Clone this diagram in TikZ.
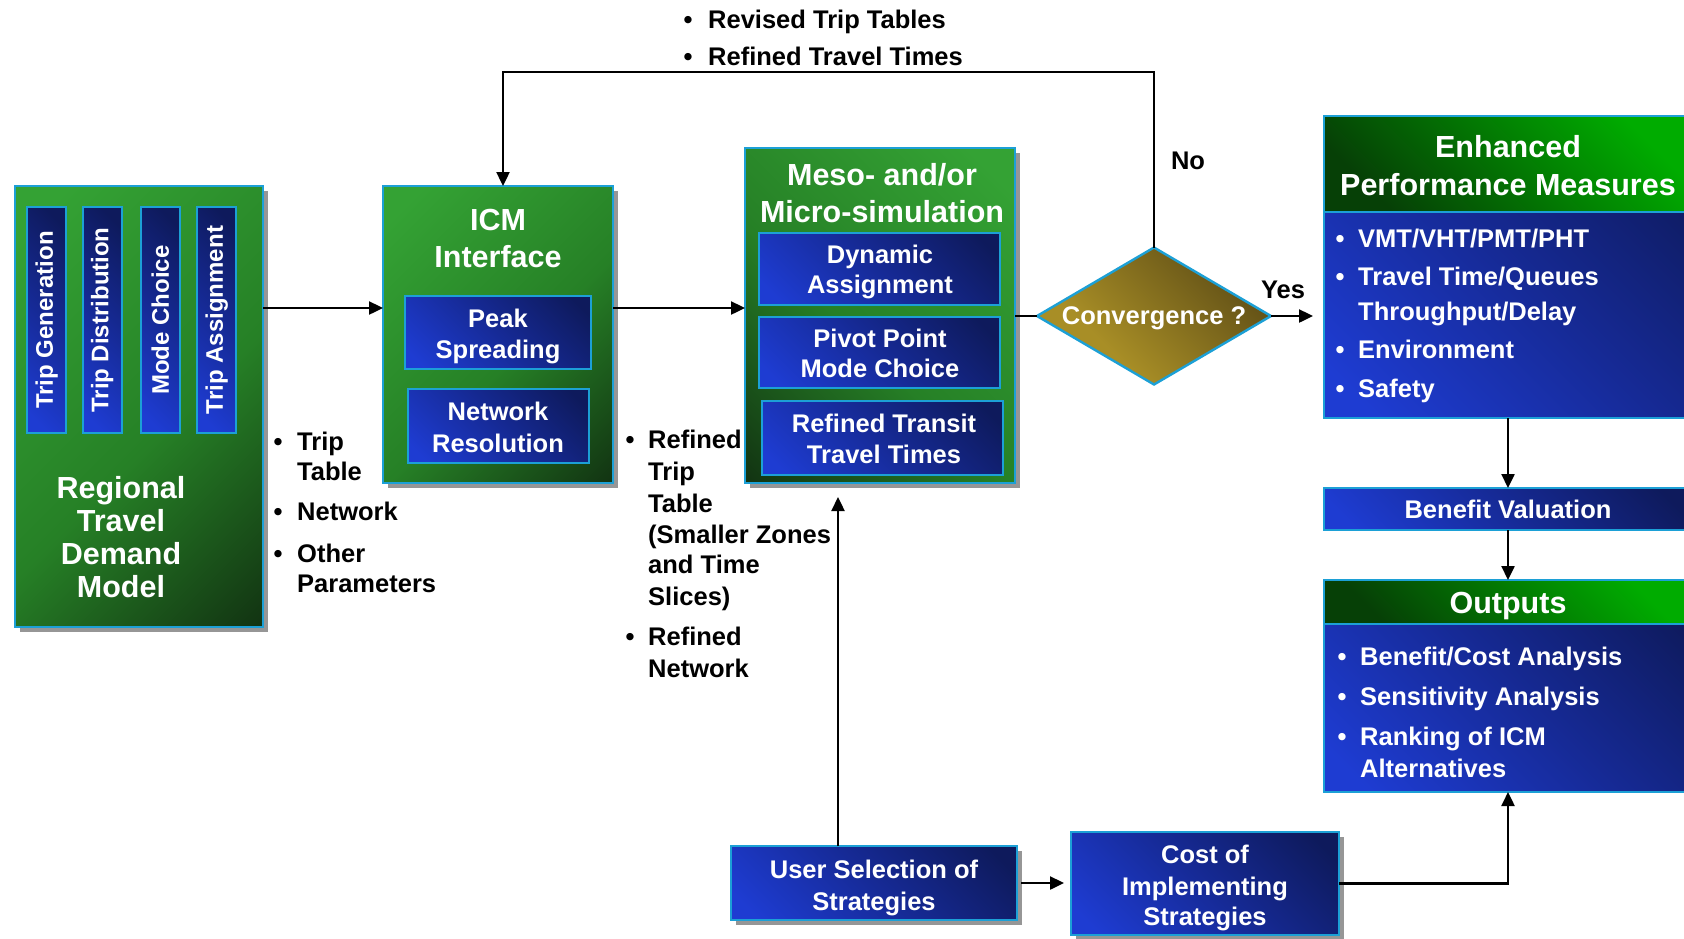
\documentclass[tikz,border=0pt]{standalone}
\usepackage{fontspec}
\setmainfont{Liberation Sans}
\usetikzlibrary{shapes.geometric,arrows.meta,shadows}
\definecolor{cyanb}{RGB}{28,160,214}
\definecolor{gL}{RGB}{52,162,52}
\definecolor{gM}{RGB}{38,128,38}
\definecolor{gD}{RGB}{18,52,18}
\definecolor{bL}{RGB}{30,60,210}
\definecolor{bM}{RGB}{22,42,150}
\definecolor{bD}{RGB}{14,26,92}
\definecolor{hD}{RGB}{6,64,6}
\definecolor{hL}{RGB}{0,172,0}
\definecolor{oL}{RGB}{168,142,38}
\definecolor{oD}{RGB}{86,70,20}
\definecolor{shc}{RGB}{150,150,150}
\pgfdeclarehorizontalshading{grsh}{100bp}{color(0bp)=(gL); color(20bp)=(gL); color(55bp)=(gM); color(85bp)=(gD); color(100bp)=(gD)}
\pgfdeclarehorizontalshading{blsh}{100bp}{color(0bp)=(bL); color(20bp)=(bL); color(50bp)=(bM); color(80bp)=(bD); color(100bp)=(bD)}
\pgfdeclarehorizontalshading{hdsh}{100bp}{color(0bp)=(hD); color(25bp)=(hD); color(75bp)=(hL); color(100bp)=(hL)}
\pgfdeclarehorizontalshading{olsh}{100bp}{color(0bp)=(oL); color(35bp)=(oL); color(80bp)=(oD); color(100bp)=(oD)}
\newcommand{\myTitleFont}{\bfseries\fontsize{30.5}{36}\selectfont}
\newcommand{\myNormFont}{\bfseries\fontsize{25.5}{30}\selectfont}
\newcommand{\myVertFont}{\bfseries\fontsize{24}{28}\selectfont}
\tikzset{
  box/.style={rectangle, inner sep=0pt, outer sep=0pt, draw=cyanb, line width=2.4pt, shade},
  shad/.style={drop shadow={shadow xshift=5pt, shadow yshift=-5pt, fill=shc, opacity=1}},
  gbox/.style={box, shading=grsh, shading angle=-45, shad},
  gboxr/.style={box, shading=grsh, shading angle=-135, shad},
  bbox/.style={box, shading=blsh, shading angle=45},
  hbox/.style={box, shading=hdsh, shading angle=45},
  dbox/.style={diamond, inner sep=0pt, outer sep=0pt, draw=cyanb, line width=2.4pt, shade, shading=olsh, shading angle=45},
  ttl/.style={anchor=base, inner sep=0pt, text=white, font=\myTitleFont},
  wtx/.style={anchor=base, inner sep=0pt, text=white, font=\myNormFont},
  wlt/.style={anchor=base west, inner sep=0pt, text=white, font=\myNormFont},
  btx/.style={anchor=base, inner sep=0pt, text=black, font=\myNormFont},
  blt/.style={anchor=base west, inner sep=0pt, text=black, font=\myNormFont},
  vtx/.style={rotate=90, inner sep=0pt, text=white, font=\myVertFont},
  arr/.style={-{Triangle[length=14pt,width=13pt]}, line width=2.4pt, black},
  ln/.style={line width=2.4pt, black}
}
\begin{document}
\begin{tikzpicture}[x=1pt,y=-1pt]
\useasboundingbox (0,0) rectangle (1684,938);
\clip (0,0) rectangle (1684,938);
\fill[white] (0,0) rectangle (1684,938);

% ---------- Regional Travel Demand Model ----------
\node[gbox, minimum width=248pt, minimum height=441pt] (reg) at (139,406.5) {};
\node[bbox, minimum width=39pt, minimum height=226pt] (tg) at (46.7,320) {};
\node[bbox, minimum width=39pt, minimum height=226pt] (td) at (102.2,320) {};
\node[bbox, minimum width=39pt, minimum height=226pt] (mc) at (160.3,320) {};
\node[bbox, minimum width=39pt, minimum height=226pt] (ta) at (216.7,320) {};
\node[vtx] (tgt) at (tg) {Trip Generation};
\node[vtx] (tdt) at (td) {Trip Distribution};
\node[vtx] (mct) at (mc) {Mode Choice};
\node[vtx] (tat) at (ta) {Trip Assignment};
\node[ttl] (reg1) at (121,498) {Regional};
\node[ttl] (reg2) at (121,531) {Travel};
\node[ttl] (reg3) at (121,564) {Demand};
\node[ttl] (reg4) at (121,597) {Model};

% ---------- ICM Interface ----------
\node[gbox, minimum width=230pt, minimum height=297pt] (icm) at (498,334.5) {};
\node[ttl] (icm1) at (498,230) {ICM};
\node[ttl] (icm2) at (498,267) {Interface};
\node[bbox, minimum width=186pt, minimum height=73pt] (peak) at (498,332.5) {};
\node[wtx] (peak1) at (498,327) {Peak};
\node[wtx] (peak2) at (498,358) {Spreading};
\node[bbox, minimum width=181pt, minimum height=74pt] (netr) at (498.5,426) {};
\node[wtx] (netr1) at (498,420) {Network};
\node[wtx] (netr2) at (498,452) {Resolution};

% ---------- Meso / Micro-simulation ----------
\node[gboxr, minimum width=270pt, minimum height=335pt] (meso) at (880,315.5) {};
\node[ttl] (meso1) at (882,185) {Meso- and/or};
\node[ttl] (meso2) at (882,222) {Micro-simulation};
\node[bbox, minimum width=241pt, minimum height=72pt] (dyn) at (879.5,269) {};
\node[wtx] (dyn1) at (880,263) {Dynamic};
\node[wtx] (dyn2) at (880,293) {Assignment};
\node[bbox, minimum width=241pt, minimum height=71pt] (piv) at (879.5,352.5) {};
\node[wtx] (piv1) at (880,347) {Pivot Point};
\node[wtx] (piv2) at (880,377) {Mode Choice};
\node[bbox, minimum width=241pt, minimum height=74pt] (rtt) at (882.5,438) {};
\node[wtx] (rtt1) at (884,432) {Refined Transit};
\node[wtx] (rtt2) at (884,463) {Travel Times};

% ---------- Convergence ----------
\node[dbox, minimum width=234pt, minimum height=137pt] (dia) at (1154,316) {};
\node[wtx] (diat) at (1154,324) {Convergence ?};
\node[btx] (yes) at (1283,298) {Yes};
\node[btx] (no) at (1188,169) {No};

% ---------- Enhanced Performance Measures ----------
\node[bbox, minimum width=368pt, minimum height=302pt] (enh) at (1508,267) {};
\node[hbox, minimum width=368pt, minimum height=96pt] (enhh) at (1508,164) {};
\node[ttl] (enh1) at (1508,157) {Enhanced};
\node[ttl] (enh2) at (1508,195) {Performance Measures};
\node[wtx] (eb1) at (1340,247) {\textbullet};
\node[wlt] (et1) at (1358,247) {VMT/VHT/PMT/PHT};
\node[wtx] (eb2) at (1340,285) {\textbullet};
\node[wlt] (et2) at (1358,285) {Travel Time/Queues};
\node[wlt] (et3) at (1358,320) {Throughput/Delay};
\node[wtx] (eb4) at (1340,358) {\textbullet};
\node[wlt] (et4) at (1358,358) {Environment};
\node[wtx] (eb5) at (1340,397) {\textbullet};
\node[wlt] (et5) at (1358,397) {Safety};

% ---------- Benefit Valuation ----------
\node[bbox, minimum width=368pt, minimum height=42pt] (ben) at (1508,509) {};
\node[wtx] (bent) at (1508,518) {Benefit Valuation};

% ---------- Outputs ----------
\node[bbox, minimum width=368pt, minimum height=212pt] (out) at (1508,686) {};
\node[hbox, minimum width=368pt, minimum height=44pt] (outh) at (1508,602) {};
\node[ttl] (outt) at (1508,613) {Outputs};
\node[wtx] (ob1) at (1342,665) {\textbullet};
\node[wlt] (ot1) at (1360,665) {Benefit/Cost Analysis};
\node[wtx] (ob2) at (1342,705) {\textbullet};
\node[wlt] (ot2) at (1360,705) {Sensitivity Analysis};
\node[wtx] (ob3) at (1342,745) {\textbullet};
\node[wlt] (ot3) at (1360,745) {Ranking of ICM};
\node[wlt] (ot4) at (1360,777) {Alternatives};

% ---------- User selection / Cost ----------
\node[bbox, shad, minimum width=286pt, minimum height=74pt] (user) at (874,883) {};
\node[wtx] (user1) at (874,878) {User Selection of};
\node[wtx] (user2) at (874,910) {Strategies};
\node[bbox, shad, minimum width=268pt, minimum height=103pt] (cost) at (1205,883.5) {};
\node[wtx] (cost1) at (1205,863) {Cost of};
\node[wtx] (cost2) at (1205,895) {Implementing};
\node[wtx] (cost3) at (1205,925) {Strategies};

% ---------- free labels ----------
\node[btx] (tb1) at (688,28) {\textbullet};
\node[blt] (tt1) at (708,28) {Revised Trip Tables};
\node[btx] (tb2) at (688,65) {\textbullet};
\node[blt] (tt2) at (708,65) {Refined Travel Times};

\node[btx] (lb1) at (278,450) {\textbullet};
\node[blt] (lt1) at (297,450) {Trip};
\node[blt] (lt2) at (297,480) {Table};
\node[btx] (lb3) at (278,520) {\textbullet};
\node[blt] (lt3) at (297,520) {Network};
\node[btx] (lb4) at (278,562) {\textbullet};
\node[blt] (lt4) at (297,562) {Other};
\node[blt] (lt5) at (297,592) {Parameters};

\node[btx] (mb1) at (630,448) {\textbullet};
\node[blt] (mt1) at (648,448) {Refined};
\node[blt] (mt2) at (648,480) {Trip};
\node[blt] (mt3) at (648,512) {Table};
\node[blt] (mt4) at (648,543) {(Smaller Zones};
\node[blt] (mt5) at (648,573) {and Time};
\node[blt] (mt6) at (648,605) {Slices)};
\node[btx] (mb7) at (630,645) {\textbullet};
\node[blt] (mt7) at (648,645) {Refined};
\node[blt] (mt8) at (648,677) {Network};

% ---------- connectors ----------
\coordinate (yrow) at (0,308);
\coordinate (ytop) at (0,72);
\draw[arr] (reg.east |- yrow) -- (icm.west |- yrow);
\draw[arr] (icm.east |- yrow) -- (meso.west |- yrow);
\draw[ln] (meso.east |- dia.west) -- (dia.west);
\draw[arr, shorten >=11pt] (dia.east) -- (enh.west |- dia.east);
\draw[arr] (dia.north) -- (dia.north |- ytop) -| ([xshift=5pt]icm.north);
\draw[arr] (enh.south) -- (ben.north);
\draw[arr] (ben.south) -- (outh.north);
\draw[arr, shorten >=14pt] ([xshift=-36pt]user.north) -- ([xshift=-36pt]user.north |- meso.south);
\draw[arr, shorten >=7pt, shorten <=4pt] (user.east) -- (cost.west |- user.east);
\draw[arr] (cost.east) -| (out.south);
\end{tikzpicture}
\end{document}
